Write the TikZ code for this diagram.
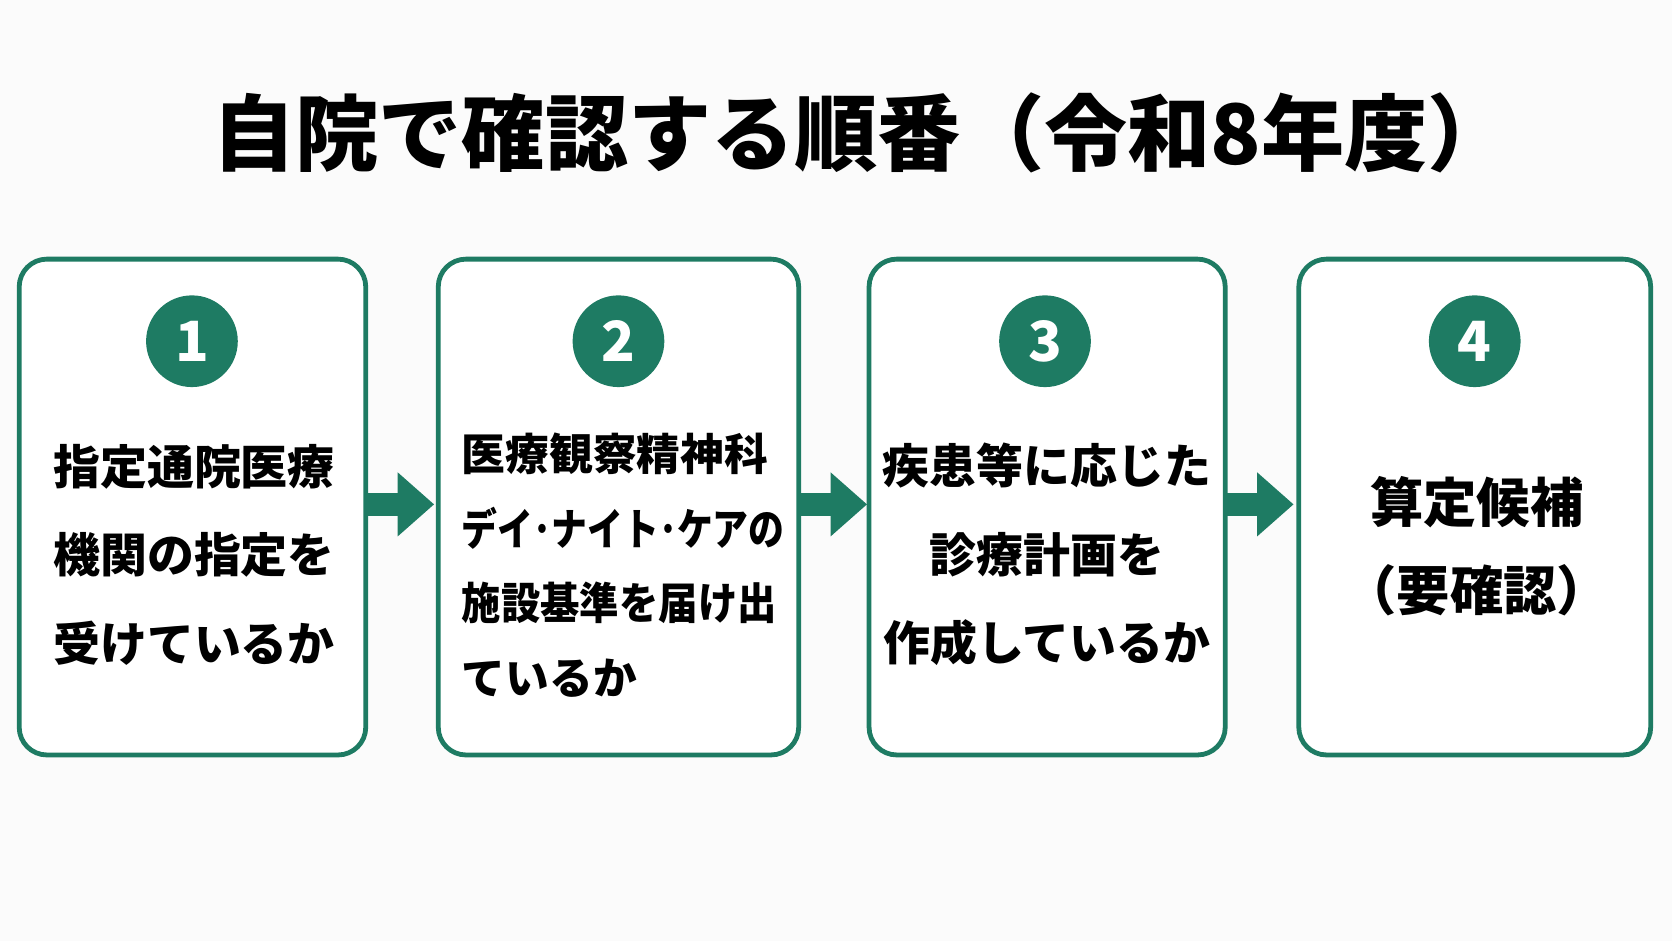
\documentclass[tikz,border=0pt]{standalone}
\usepackage{fontspec}
\setmainfont{Noto Sans CJK JP}
\definecolor{grn}{HTML}{1E7B63}
\begin{document}
\begin{tikzpicture}[x=1pt,y=-1pt,
  box/.style={draw=grn,line width=4.5pt,rounded corners=26pt,fill=white},
  num/.style={circle,fill=grn,minimum size=86pt,inner sep=0pt,text=white,font=\fontsize{52}{52}\selectfont\bfseries},
  txt/.style={font=\fontsize{44}{83}\selectfont\bfseries,align=center,inner sep=0pt}]
\useasboundingbox (0,0) rectangle (1568,882);
\fill[white!97!gray] (0,0) rectangle (1568,882);
\node[font=\fontsize{78}{78}\selectfont\bfseries] (title) at (808,125) {自院で確認する順番（令和8年度）};
\draw[box] (18,243) rectangle (343,708);
\draw[box] (411,243) rectangle (749,708);
\draw[box] (815,243) rectangle (1149,708);
\draw[box] (1218,243) rectangle (1548,708);
\node[num] (n1) at (180,320) {1};
\node[num] (n2) at (580,320) {2};
\node[num] (n3) at (980,320) {3};
\node[num] (n4) at (1383,320) {4};
\node[txt] (t1) at (182,520) {指定通院医療\\機関の指定を\\受けているか};
\node[txt,align=left,font=\fontsize{41}{70}\selectfont\bfseries,anchor=west] (t2) at (433,530) {医療観察精神科\\\scalebox{0.82}[1]{デイ･ナイト･ケアの}\\\scalebox{0.9}[1]{施設基準を届け出}\\ているか};
\node[txt] (t3) at (982,520) {疾患等に応じた\\診療計画を\\作成しているか};
\node[txt,font=\fontsize{50}{83}\selectfont\bfseries] (t4) at (1385,512) {算定候補\\（要確認）};
\foreach \a in {343,749,1149}{
  \fill[grn] (\a,462) rectangle (\a+32,484);
  \fill[grn] (\a+30,443) -- (\a+64,473) -- (\a+30,503) -- cycle;}
\end{tikzpicture}
\end{document}
